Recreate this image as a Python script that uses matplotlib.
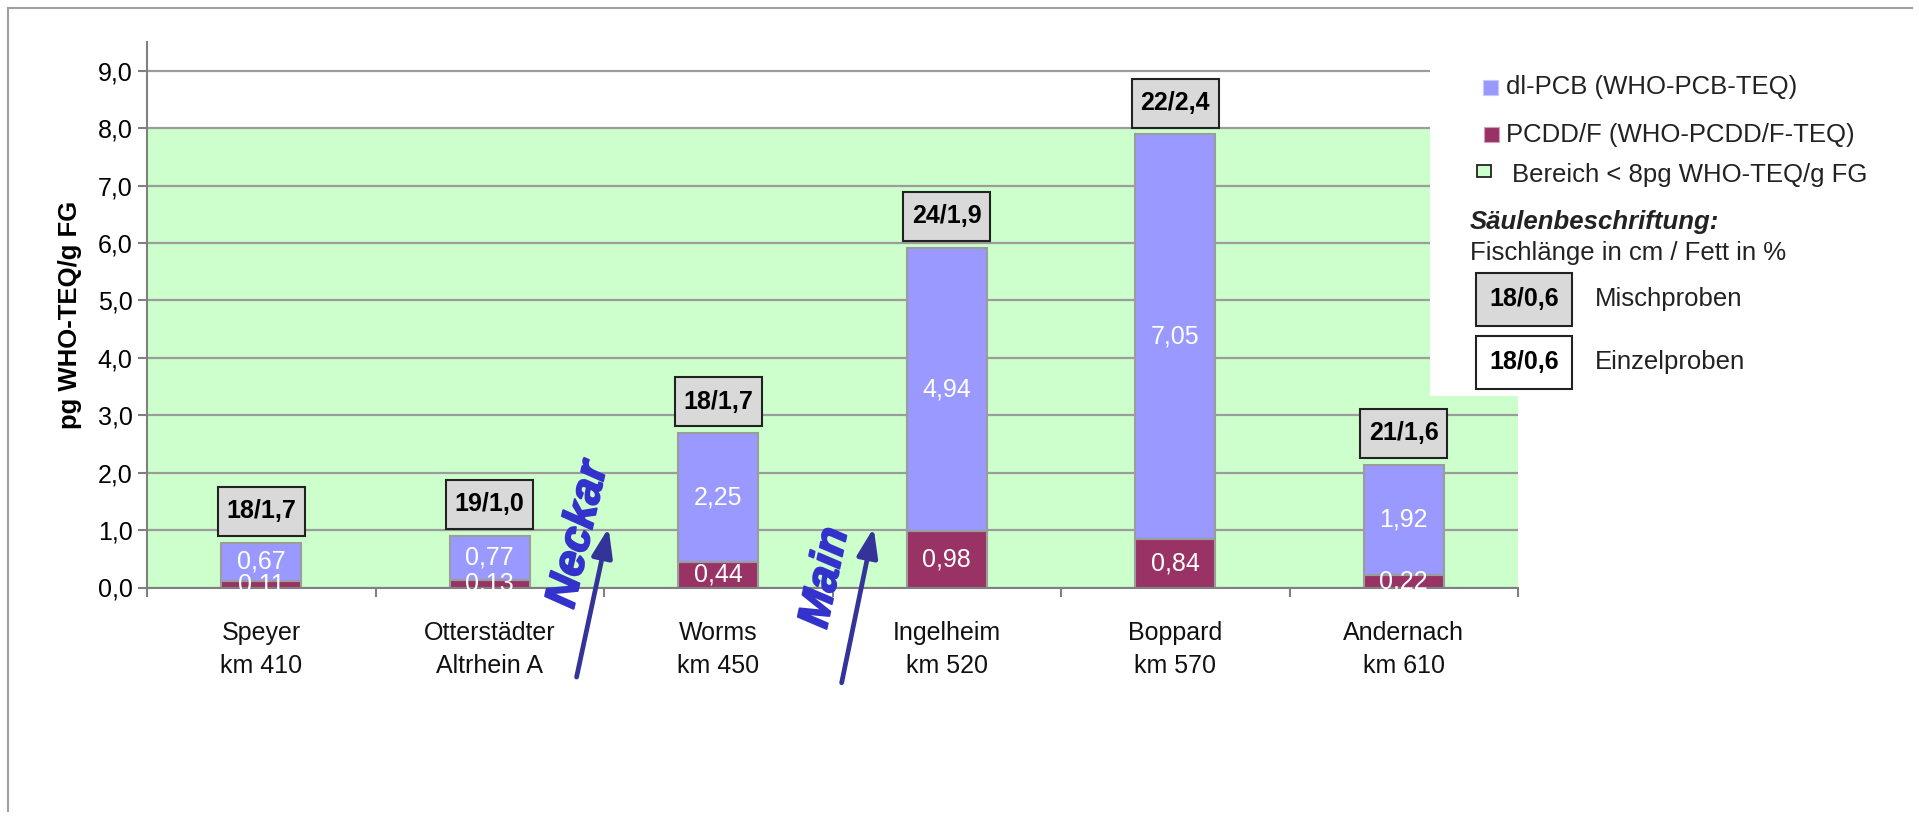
import numpy as np
import matplotlib
matplotlib.use('Agg')
import matplotlib.pyplot as plt
import matplotlib.patheffects as pe
from matplotlib.patches import Rectangle
from matplotlib.lines import Line2D
from matplotlib.path import Path

plt.rcParams['font.family'] = ['Liberation Sans', 'DejaVu Sans']

# data
sites = ['Speyer\nkm 410', 'Otterstädter\nAltrhein A', 'Worms\nkm 450',
         'Ingelheim\nkm 520', 'Boppard\nkm 570', 'Andernach\nkm 610']
pcdd = [0.11, 0.13, 0.44, 0.98, 0.84, 0.22]   # PCDD/F (WHO-PCDD/F-TEQ)
pcb = [0.67, 0.77, 2.25, 4.94, 7.05, 1.92]    # dl-PCB (WHO-PCB-TEQ)
box_labels = ['18/1,7', '19/1,0', '18/1,7', '24/1,9', '22/2,4', '21/1,6']
yticks = [0, 1, 2, 3, 4, 5, 6, 7, 8, 9]
limit = 8.0

rivers = ['Neckar', 'Main']
river_text_xy = [(1.39, 0.92), (2.47, 0.17)]
river_rot = [77, 78]
arrow_tail = [(1.38, -1.56), (2.54, -1.66)]
arrow_tip = [(1.52, 1.04), (2.68, 1.04)]

BLUE = '#9999FF'
PURPLE = '#993366'
GREEN = '#CCFFCC'
GRID = '#9C9C9C'
FS = 18

W, H = 1919, 819
fig = plt.figure(figsize=(W / 100, H / 100), dpi=100)


def fx(px):
    return px / W


def fy(py):
    return 1 - py / H


def box(padx, pady):
    # rectangle with separate horizontal / vertical padding
    def style(x0, y0, width, height, mutation_size):
        px, py = padx * mutation_size, pady * mutation_size
        x0, y0 = x0 - px, y0 - py
        x1, y1 = x0 + width + 2 * px, y0 + height + 2 * py
        return Path([(x0, y0), (x1, y0), (x1, y1), (x0, y1), (x0, y0)],
                    closed=True)
    return style


ax = fig.add_axes([fx(147), fy(587.5), fx(1518) - fx(147), fy(42) - fy(587.5)])
x = np.arange(len(sites))
pcdd = np.array(pcdd)
pcb = np.array(pcb)
totals = pcdd + pcb

ax.axhspan(0, limit, color=GREEN, zorder=0.2, lw=0)
ax.set_axisbelow(True)
ax.yaxis.grid(True, color=GRID, lw=1.6)

b1 = ax.bar(x, pcdd, 0.35, color=PURPLE, edgecolor=GRID, lw=1.5, zorder=2)
b2 = ax.bar(x, pcb, 0.35, bottom=pcdd, color=BLUE, edgecolor=GRID, lw=1.5, zorder=2)
fmt = lambda v: f'{v:.2f}'.replace('.', ',')
ax.bar_label(b1, labels=[fmt(v) for v in pcdd], label_type='center',
             color='white', fontsize=FS, zorder=3)
ax.bar_label(b2, labels=[fmt(v) for v in pcb], label_type='center',
             color='white', fontsize=FS, zorder=3)

for xi, t, lab in zip(x, totals, box_labels):
    ax.annotate(lab, (xi, t), xytext=(0, 14), textcoords='offset points',
                ha='center', va='bottom', fontsize=FS, fontweight='bold',
                bbox=dict(boxstyle=box(0.34, 0.5), fc='#D9D9D9', ec='#222222', lw=1.5),
                zorder=5)

ax.set_xlim(-0.5, len(sites) - 0.5)
ax.set_ylim(0, 9.5)
ax.set_yticks(yticks)
ax.set_yticklabels([f'{v:.1f}'.replace('.', ',') for v in yticks], fontsize=FS)
ax.set_xticks(x)
ax.set_xticklabels(sites, fontsize=FS, linespacing=1.5, color='#111111')
ax.set_xticks(np.arange(-0.5, len(sites)), minor=True)
ax.tick_params(axis='x', which='major', length=0, pad=24)
ax.tick_params(axis='x', which='minor', length=6.5, width=1.5, color='#808080')
ax.tick_params(axis='y', length=6.5, width=1.5, color='#808080', pad=4)
for s in ['top', 'right']:
    ax.spines[s].set_visible(False)
for s in ['left', 'bottom']:
    ax.spines[s].set_color('#808080')
    ax.spines[s].set_linewidth(1.5)

fig.text(fx(70), fy(315), 'pg WHO-TEQ/g FG', rotation=90, ha='center', va='center',
         fontsize=18.5, fontweight='bold')

# river inflows
for name, txy, rot, tail, tip in zip(rivers, river_text_xy, river_rot, arrow_tail, arrow_tip):
    ax.text(txy[0], txy[1], name, rotation=rot, rotation_mode='anchor', ha='center',
            va='center', fontsize=32, fontweight='bold', style='italic',
            color='#3333CC', clip_on=False, zorder=6,
            path_effects=[pe.withStroke(linewidth=1.4, foreground='#3333CC')])
    ax.annotate('', xy=tip, xytext=tail, annotation_clip=False, zorder=6,
                arrowprops=dict(arrowstyle='-|>,head_length=0.7,head_width=0.25',
                                mutation_scale=25, lw=3.4, color='#333399',
                                shrinkA=0, shrinkB=0))

# legend panel
fig.add_artist(Rectangle((fx(1430), fy(396)), fx(1905) - fx(1430), (396 - 38) / H,
                         transform=fig.transFigure, fc='white', ec='none', zorder=1))
fig.add_artist(Rectangle((fx(1483), fy(95)), fx(15), 15 / H, transform=fig.transFigure,
                         fc=BLUE, ec='#C8C8FF', lw=0.8, zorder=2))
fig.text(fx(1506), fy(87), 'dl-PCB (WHO-PCB-TEQ)', ha='left', va='center', fontsize=18.5,
         color='#222222', zorder=2)
fig.add_artist(Rectangle((fx(1484), fy(142)), fx(15), 15 / H, transform=fig.transFigure,
                         fc=PURPLE, ec='#D0A0B8', lw=0.8, zorder=2))
fig.text(fx(1506), fy(135), 'PCDD/F (WHO-PCDD/F-TEQ)', ha='left', va='center', fontsize=18.5,
         color='#222222', zorder=2)
fig.add_artist(Rectangle((fx(1477), fy(177)), fx(14), 12 / H, transform=fig.transFigure,
                         fc=GREEN, ec='#222222', lw=1.3, zorder=2))
fig.text(fx(1512), fy(175), 'Bereich < 8pg WHO-TEQ/g FG', ha='left', va='center',
         fontsize=18.5, color='#222222', zorder=2)
fig.text(fx(1470), fy(222), 'Säulenbeschriftung:', ha='left', va='center', fontsize=18.5,
         fontweight='bold', style='italic', color='#222222', zorder=2)
fig.text(fx(1470), fy(253), 'Fischlänge in cm / Fett in %', ha='left', va='center',
         fontsize=18.5, color='#222222', zorder=2)
for cy, fc, name in [(299, '#D9D9D9', 'Mischproben'), (362, 'white', 'Einzelproben')]:
    fig.text(fx(1524), fy(cy), '18/0,6', ha='center', va='center', fontsize=FS,
             fontweight='bold', zorder=3,
             bbox=dict(boxstyle=box(0.52, 0.58), fc=fc, ec='#222222', lw=1.5))
    fig.text(fx(1595), fy(cy), name, ha='left', va='center', fontsize=18.5,
             color='#222222', zorder=2)

# outer frame
fig.add_artist(Line2D([fx(8), fx(1912)], [fy(8), fy(8)], color='#A0A0A0', lw=1.5))
fig.add_artist(Line2D([fx(8), fx(8)], [fy(8), fy(811)], color='#A0A0A0', lw=1.5))

fig.savefig('out.png', dpi=100, facecolor='white')
